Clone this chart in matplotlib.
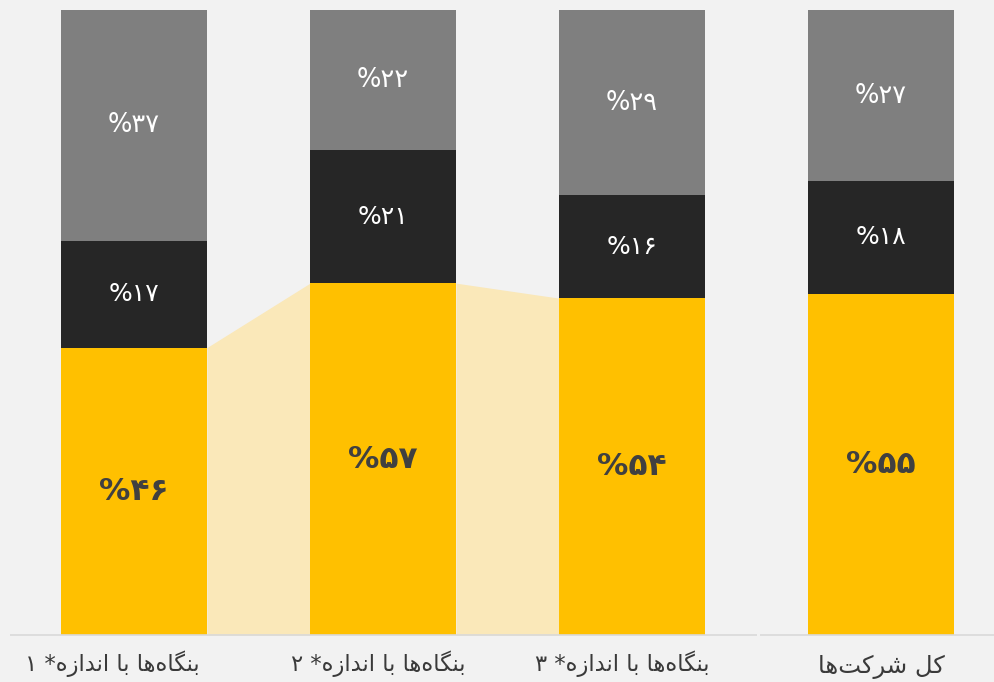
import re
import matplotlib
matplotlib.use("Agg")
import matplotlib.pyplot as plt

# ---------------- data ----------------
categories = ["بنگاه‌ها با اندازه* ۱", "بنگاه‌ها با اندازه* ۲",
              "بنگاه‌ها با اندازه* ۳", "کل شرکت‌ها"]
yellow_vals = [46.0, 56.3, 53.9, 54.6]
dark_vals = [17.1, 21.3, 16.5, 18.0]
gray_vals = [36.9, 22.4, 29.6, 27.4]
yellow_labels = ["%۴۶", "%۵۷", "%۵۴", "%۵۵"]
dark_labels = ["%۱۷", "%۲۱", "%۱۶", "%۱۸"]
gray_labels = ["%۳۷", "%۲۲", "%۲۹", "%۲۷"]

# ---------------- minimal Persian shaping (matplotlib has no shaper) ----------------
FORMS = {
    'ا': ('\uFE8D', '\uFE8E', None, None),
    'ب': ('\uFE8F', '\uFE90', '\uFE91', '\uFE92'),
    'ت': ('\uFE95', '\uFE96', '\uFE97', '\uFE98'),
    'د': ('\uFEA9', '\uFEAA', None, None),
    'ر': ('\uFEAD', '\uFEAE', None, None),
    'ز': ('\uFEAF', '\uFEB0', None, None),
    'ش': ('\uFEB5', '\uFEB6', '\uFEB7', '\uFEB8'),
    'ک': ('\uFB8E', '\uFB8F', '\uFB90', '\uFB91'),
    'گ': ('\uFB92', '\uFB93', '\uFB94', '\uFB95'),
    'ل': ('\uFEDD', '\uFEDE', '\uFEDF', '\uFEE0'),
    'ن': ('\uFEE5', '\uFEE6', '\uFEE7', '\uFEE8'),
    'ه': ('\uFEE9', '\uFEEA', '\uFEEB', '\uFEEC'),
}


def shape(text):
    out = []
    n = len(text)
    for i, ch in enumerate(text):
        if ch == '\u200c':
            continue
        if ch not in FORMS:
            out.append(ch)
            continue
        prev = text[i - 1] if i > 0 else ''
        nxt = text[i + 1] if i + 1 < n else ''
        jp = prev in FORMS and FORMS[prev][2] is not None
        jn = FORMS[ch][2] is not None and nxt in FORMS
        iso, fin, ini, med = FORMS[ch]
        if jp and jn:
            out.append(med)
        elif jp:
            out.append(fin)
        elif jn:
            out.append(ini)
        else:
            out.append(iso)
    vis = ''.join(out)[::-1]
    # keep digit runs left-to-right
    vis = re.sub(r'[0-9\u06F0-\u06F9]+', lambda m: m.group(0)[::-1], vis)
    return vis


plt.rcParams['font.family'] = ['DejaVu Sans']

# ---------------- figure ----------------
W, H = 994, 682
fig = plt.figure(figsize=(W / 100, H / 100), dpi=100)
fig.patch.set_facecolor('#F2F2F2')

c0, step = 134, 249  # px centre of first bar and spacing
ax = fig.add_axes([0, (H - 635) / H, 1, 625 / H])
ax.set_facecolor('#F2F2F2')
ax.set_xlim(-c0 / step, (W - c0) / step)
ax.set_ylim(0, 100)
ax.axis('off')

x = list(range(len(categories)))
bw = 146 / step

YEL, DARK, GRAY, CONN = '#FFC000', '#262626', '#7F7F7F', '#FAE8B9'

# connectors
for i in range(2):
    ax.fill_between([x[i] + bw / 2, x[i + 1] - bw / 2],
                    [yellow_vals[i], yellow_vals[i + 1]], 0,
                    color=CONN, linewidth=0, zorder=1)

ax.bar(x, yellow_vals, width=bw, color=YEL, zorder=2, linewidth=0)
bottom2 = yellow_vals
ax.bar(x, dark_vals, width=bw, bottom=bottom2, color=DARK, zorder=2, linewidth=0)
bottom3 = [a + b for a, b in zip(yellow_vals, dark_vals)]
ax.bar(x, gray_vals, width=bw, bottom=bottom3, color=GRAY, zorder=2, linewidth=0)

for i in x:
    ax.text(i, yellow_vals[i] / 2, yellow_labels[i], ha='center', va='center',
            fontsize=22.5, fontweight='bold', color='#404040', zorder=3)
    ax.text(i, bottom2[i] + dark_vals[i] / 2, dark_labels[i], ha='center', va='center',
            fontsize=18, color='white', zorder=3)
    ax.text(i, bottom3[i] + gray_vals[i] / 2, gray_labels[i], ha='center', va='center',
            fontsize=18.5, color='white', zorder=3)

# baseline segments
ax.plot([(10 - c0) / step, (757 - c0) / step], [0, 0], color='#D9D9D9', lw=1.2,
        zorder=4, clip_on=False, solid_capstyle='butt')
ax.plot([(760 - c0) / step, (994 - c0) / step], [0, 0], color='#D9D9D9', lw=1.2,
        zorder=4, clip_on=False, solid_capstyle='butt')

# category labels (pixel offsets of label centres relative to bar centres)
label_dx = [-22, -5, -10, 0]
for i, c in enumerate(categories):
    last = i == len(categories) - 1
    fig.text((c0 + i * step + label_dx[i]) / W, 1 - (667 if last else 664) / H, shape(c),
             ha='center', va='center', fontsize=17.5 if last else 16.3,
             color='#3A3A3A')

fig.savefig('out.png', dpi=100, facecolor=fig.get_facecolor())
